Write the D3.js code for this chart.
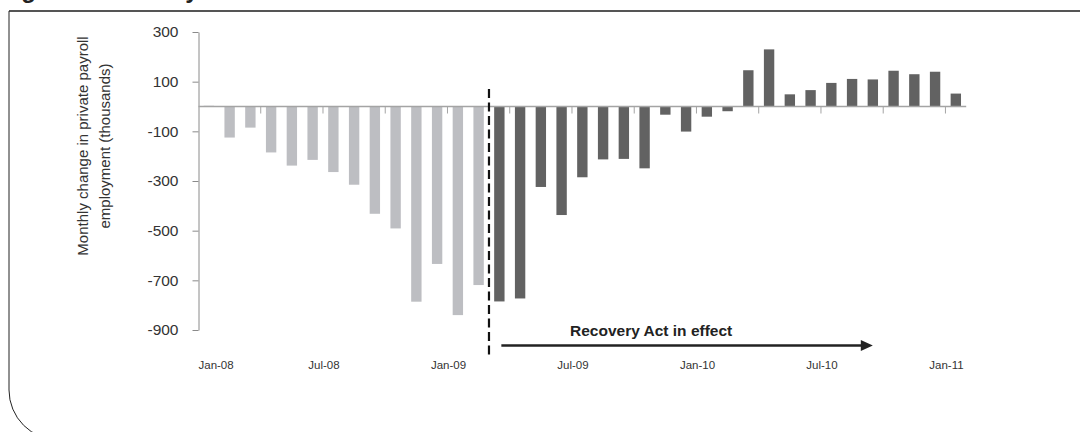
<!DOCTYPE html>
<html>
<head>
<meta charset="utf-8">
<script src="https://cdn.jsdelivr.net/npm/d3@7"></script>
<style>
  body { margin: 0; background: #fff; }
  svg { display: block; font-family: "Liberation Sans", Arial, sans-serif; }
</style>
</head>
<body>
<div id="chart"></div>
<script>
// monthly change in private payroll employment (thousands)
var months = ["Jan-08", "Feb-08", "Mar-08", "Apr-08", "May-08", "Jun-08", "Jul-08", "Aug-08", "Sep-08", "Oct-08", "Nov-08", "Dec-08",
              "Jan-09", "Feb-09", "Mar-09", "Apr-09", "May-09", "Jun-09", "Jul-09", "Aug-09", "Sep-09", "Oct-09", "Nov-09", "Dec-09",
              "Jan-10", "Feb-10", "Mar-10", "Apr-10", "May-10", "Jun-10", "Jul-10", "Aug-10", "Sep-10", "Oct-10", "Nov-10", "Dec-10",
              "Jan-11"];
var values = [3, -125, -85, -185, -238, -215, -264, -315, -432, -491, -786, -634,
              -840, -719, -785, -773, -324, -437, -285, -213, -211, -249, -33, -101,
              -41, -19, 146, 230, 49, 66, 95, 111, 109, 144, 130, 140,
              52];
var actStart = "Mar-09";
var arrowEnd = "Sep-10";
var yTicks = [300, 100, -100, -300, -500, -700, -900];
var xLabels = ["Jan-08", "Jul-08", "Jan-09", "Jul-09", "Jan-10", "Jul-10", "Jan-11"];
var xTickMonths = ["Apr-08", "Jul-08", "Oct-08", "Jan-09", "Apr-09", "Jul-09", "Oct-09", "Jan-10", "Apr-10", "Jul-10", "Oct-10", "Jan-11"];

var W = 1080, H = 432;
var svg = d3.select("#chart").append("svg")
    .attr("width", W)
    .attr("height", H);

// cut-off figure title above the frame
svg.append("text")
    .attr("x", 0).attr("y", -2)
    .attr("font-size", 24).attr("font-weight", "bold")
    .attr("fill", "#222")
    .text("Figure 1. Monthly");

// frame: heavy top rule, thin left edge with rounded bottom corner
svg.append("line")
    .attr("x1", 9).attr("x2", W).attr("y1", 11).attr("y2", 11)
    .attr("stroke", "#555").attr("stroke-width", 2);
svg.append("path")
    .attr("d", "M9,11 V390 A50,50 0 0 0 59,440")
    .attr("fill", "none").attr("stroke", "#222").attr("stroke-width", 1);

var x = d3.scaleBand()
    .domain(months)
    .range([198.5, 966.2])
    .paddingInner(0.5)
    .paddingOuter(0.25);
var y = d3.scaleLinear()
    .domain([-900, 300])
    .range([330, 32]);

// left edge of a month's slot
function slot(m) { return x(m) - x.step() * x.paddingInner() / 2; }

// Y axis
var yAxis = svg.append("g")
    .attr("transform", "translate(198.5,0)")
    .call(d3.axisLeft(y).tickValues(yTicks).tickSize(6).tickSizeOuter(0).tickPadding(14)
        .tickFormat(function (d) { return String(d); }));
yAxis.select(".domain").attr("stroke", "#8a8a8a");
yAxis.selectAll(".tick line").attr("stroke", "#8a8a8a");
yAxis.selectAll(".tick text")
    .attr("font-size", 15.5).attr("fill", "#333")
    .attr("font-family", "Liberation Sans, Arial, sans-serif");

// Y title
var yTitle = ["Monthly change in private payroll", "employment (thousands)"];
svg.selectAll(".ytitle").data(yTitle).enter().append("text")
    .attr("class", "ytitle")
    .attr("transform", function (d, i) { return "translate(" + (88 + i * 21.5) + ",146) rotate(-90)"; })
    .attr("text-anchor", "middle")
    .attr("font-size", 15).attr("fill", "#333")
    .text(function (d) { return d; });

// bars
svg.append("g").selectAll("rect")
    .data(values)
    .enter()
    .append("rect")
      .attr("x", function (d, i) { return x(months[i]); })
      .attr("width", x.bandwidth())
      .attr("y", function (d) { return y(Math.max(0, d)); })
      .attr("height", function (d) { return Math.abs(y(d) - y(0)); })
      .attr("fill", function (d, i) { return i < months.indexOf(actStart) ? "#bdbec2" : "#626262"; });

// category axis along zero
svg.append("line")
    .attr("x1", 198.5).attr("x2", 966.2)
    .attr("y1", y(0)).attr("y2", y(0))
    .attr("stroke", "#a4a4a4").attr("stroke-width", 1.5);
svg.append("g").selectAll("line")
    .data(xTickMonths)
    .enter()
    .append("line")
      .attr("x1", function (d) { return slot(d); })
      .attr("x2", function (d) { return slot(d); })
      .attr("y1", y(0)).attr("y2", y(0) + 7)
      .attr("stroke", "#a4a4a4");
svg.append("g").selectAll("text")
    .data(xLabels)
    .enter()
    .append("text")
      .attr("x", function (d, i) { return i === 0 ? slot(d) : slot(d) + 1; })
      .attr("y", 369)
      .attr("text-anchor", function (d, i) { return i === 0 ? "start" : "middle"; })
      .attr("font-size", 11.5).attr("fill", "#333")
      .text(function (d) { return d; });

// Recovery Act marker
var xAct = slot(actStart);
svg.append("line")
    .attr("x1", xAct).attr("x2", xAct)
    .attr("y1", 89).attr("y2", 355)
    .attr("stroke", "#111").attr("stroke-width", 2.2)
    .attr("stroke-dasharray", "9,4.5");

var x0 = x(actStart) + x.bandwidth() / 2, x1 = x(arrowEnd) + x.bandwidth() / 2, ya = 345.5;
svg.append("line")
    .attr("x1", x0 + 2).attr("x2", x1 - 10)
    .attr("y1", ya).attr("y2", ya)
    .attr("stroke", "#222").attr("stroke-width", 2.5);
svg.append("path")
    .attr("d", "M" + (x1 - 12) + "," + (ya - 5.5) + " L" + x1 + "," + ya + " L" + (x1 - 12) + "," + (ya + 5.5) + " Z")
    .attr("fill", "#222");
svg.append("text")
    .attr("x", 570).attr("y", 336)
    .attr("font-size", 15.5).attr("font-weight", "bold").attr("fill", "#222")
    .text("Recovery Act in effect");
</script>
</body>
</html>
